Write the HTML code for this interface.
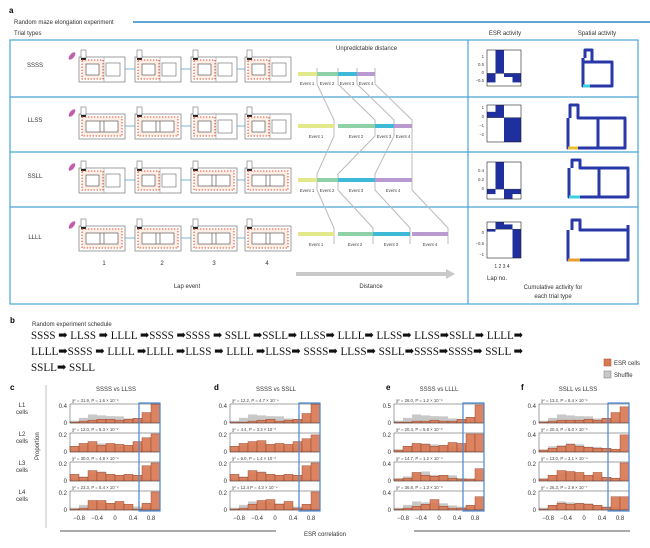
<!DOCTYPE html>
<html><head><meta charset="utf-8"><style>
html,body{margin:0;padding:0;background:#fff;}
svg{display:block;font-family:"Liberation Sans",Arial,sans-serif;}
.t{font-size:6px;fill:#333}
.s{font-size:4.3px;fill:#444}
.q{font-family:"Liberation Serif","DejaVu Serif",serif;font-size:12px;fill:#111}
</style></head><body>
<svg id="s" width="650" height="548" viewBox="0 0 650 548" xmlns="http://www.w3.org/2000/svg">
<rect width="650" height="548" fill="#fff"/>
<!-- panel a -->
<text x="9" y="13" style="font-size:8px;font-weight:bold">a</text>
<text x="14" y="24" class="t">Random maze elongation experiment</text>
<line x1="133" y1="22" x2="650" y2="22" stroke="#2a8ac4" stroke-width="1.6"/>
<text x="14" y="35" class="t">Trial types</text>
<text x="505" y="35" class="t" text-anchor="middle">ESR activity</text>
<text x="597" y="35" class="t" text-anchor="middle">Spatial activity</text>
<g fill="none" stroke="#4aa3d8" stroke-width="1.2">
<rect x="10" y="40" width="628" height="264"/>
<line x1="468" y1="40" x2="468" y2="304"/>
<line x1="10" y1="97" x2="638" y2="97"/>
<line x1="10" y1="152" x2="638" y2="152"/>
<line x1="10" y1="207" x2="638" y2="207"/>
</g>
<text x="35" y="67" class="t" text-anchor="middle">SSSS</text>
<text x="35" y="122" class="t" text-anchor="middle">LLSS</text>
<text x="35" y="178" class="t" text-anchor="middle">SSLL</text>
<text x="35" y="239" class="t" text-anchor="middle">LLLL</text>
<text x="336" y="50" class="t">Unpredictable distance</text>
<g class="t" text-anchor="middle">
<text x="104" y="265">1</text><text x="162" y="265">2</text><text x="214" y="265">3</text><text x="267" y="265">4</text>
<text x="187" y="288">Lap event</text>
<text x="371" y="288">Distance</text>
<text x="502" y="268" style="font-size:5px">1 2 3 4</text>
<text x="497" y="280">Lap no.</text>
<text x="553" y="289">Cumulative activity for</text>
<text x="553" y="298">each trial type</text>
</g>
<g class="s" text-anchor="middle">
<text x="307" y="85">Event 1</text><text x="327" y="85">Event 2</text><text x="347" y="85">Event 3</text><text x="366" y="85">Event 4</text>
<text x="316" y="138">Event 1</text><text x="356" y="138">Event 2</text><text x="384" y="138">Event 3</text><text x="403" y="138">Event 4</text>
<text x="307" y="192">Event 1</text><text x="327" y="192">Event 2</text><text x="356" y="192">Event 3</text><text x="393" y="192">Event 4</text>
<text x="316" y="246">Event 1</text><text x="355" y="246">Event 2</text><text x="391" y="246">Event 3</text><text x="430" y="246">Event 4</text>
</g>
<g class="s" text-anchor="end">
<text x="484" y="58">1</text><text x="484" y="66">0.5</text><text x="484" y="74">0</text><text x="484" y="82">−0.5</text>
<text x="484" y="109">1</text><text x="484" y="118">0</text><text x="484" y="127">−1</text><text x="484" y="136">−2</text>
<text x="484" y="172">0.4</text><text x="484" y="181">0.2</text><text x="484" y="190">0</text>
<text x="484" y="234">0</text><text x="484" y="245">−0.5</text><text x="484" y="256">−1</text>
</g>
<polygon points="296,272 446,272 446,269 455,274 446,279 446,276 296,276" fill="#c9c9c9"/>

<!-- panel b -->
<text x="10" y="323" style="font-size:8px;font-weight:bold">b</text>
<text x="32" y="326" class="t">Random experiment schedule</text>
<text x="31" y="339" class="q" textLength="492" lengthAdjust="spacingAndGlyphs">SSSS ➡ LLSS ➡ LLLL ➡SSSS ➡SSSS ➡ SSLL ➡SSLL➡ LLSS➡ LLLL➡ LLSS➡ LLSS➡SSLL➡ LLLL➡</text>
<text x="31" y="355" class="q" textLength="492" lengthAdjust="spacingAndGlyphs">LLLL➡SSSS ➡ LLLL ➡LLLL ➡LLSS ➡ LLLL ➡LLSS➡ SSSS➡ LLSS➡ SSLL➡SSSS➡SSSS➡ SSLL ➡</text>
<text x="31" y="371" class="q" textLength="64" lengthAdjust="spacingAndGlyphs">SSLL➡ SSLL</text>
<rect x="604" y="359" width="7" height="7" fill="#d97a55" stroke="#a04a2a" stroke-width=".5"/>
<text x="614" y="365" class="t">ESR cells</text>
<rect x="604" y="371" width="7" height="7" fill="#c8c8c8" stroke="#777" stroke-width=".5"/>
<text x="614" y="377" class="t">Shuffle</text>

<!-- panels c-f -->
<g style="font-size:8px;font-weight:bold">
<text x="10" y="390">c</text><text x="214" y="390">d</text><text x="386" y="390">e</text><text x="521" y="390">f</text>
</g>
<g class="t" text-anchor="middle">
<text x="116" y="391">SSSS vs LLSS</text><text x="276" y="391">SSSS vs SSLL</text>
<text x="439" y="391">SSSS vs LLLL</text><text x="578" y="391">SSLL vs LLSS</text>
<text x="22" y="407">L1</text><text x="22" y="414">cells</text>
<text x="22" y="436">L2</text><text x="22" y="443">cells</text>
<text x="22" y="465">L3</text><text x="22" y="472">cells</text>
<text x="22" y="494">L4</text><text x="22" y="501">cells</text>
<text x="325" y="536">ESR correlation</text>
</g>
<text class="t" transform="translate(39,460) rotate(-90)">Proportion</text>
<line x1="46" y1="385" x2="46" y2="528" stroke="#999" stroke-width=".6"/>
<line x1="60" y1="531" x2="276" y2="531" stroke="#555" stroke-width="1"/>
<line x1="414" y1="531" x2="630" y2="531" stroke="#555" stroke-width="1"/>
<g class="s">
<text x="72" y="402">χ² = 31.9, P = 1.6 × 10⁻⁶</text>
<text x="72" y="431">χ² = 12.0, P = 5.3 × 10⁻²</text>
<text x="72" y="460">χ² = 30.0, P = 4.8 × 10⁻⁴</text>
<text x="72" y="489">χ² = 23.3, P = 5.4 × 10⁻⁶</text>
<text x="232" y="402">χ² = 12.2, P = 4.7 × 10⁻⁴</text>
<text x="232" y="431">χ² = 4.4, P = 3.3 × 10⁻²</text>
<text x="232" y="460">χ² = 6.0, P = 1.4 × 10⁻²</text>
<text x="232" y="489">χ² = 12.4 P = 4.3 × 10⁻⁴</text>
<text x="396" y="402">χ² = 26.0, P = 1.2 × 10⁻⁶</text>
<text x="396" y="431">χ² = 20.4, P = 5.8 × 10⁻⁶</text>
<text x="396" y="460">χ² = 14.7, P = 1.2 × 10⁻⁴</text>
<text x="396" y="489">χ² = 36.8, P = 1.3 × 10⁻⁹</text>
<text x="541" y="402">χ² = 13.2, P = 8.4 × 10⁻⁵</text>
<text x="541" y="431">χ² = 20.4, P = 6.0 × 10⁻⁶</text>
<text x="541" y="460">χ² = 13.0, P = 3.1 × 10⁻⁴</text>
<text x="541" y="489">χ² = 26.3, P = 2.9 × 10⁻⁷</text>
</g>
<g class="t" text-anchor="end">
<text x="67" y="408">0.4</text><text x="67" y="425">0</text><text x="67" y="437">0.2</text><text x="67" y="454">0</text><text x="67" y="466">0.2</text><text x="67" y="483">0</text><text x="67" y="495">0.2</text><text x="67" y="512">0</text>
<text x="227" y="408">0.4</text><text x="227" y="425">0</text><text x="227" y="437">0.2</text><text x="227" y="454">0</text><text x="227" y="466">0.2</text><text x="227" y="483">0</text><text x="227" y="495">0.2</text><text x="227" y="512">0</text>
<text x="391" y="408">0.5</text><text x="391" y="425">0</text><text x="391" y="437">0.2</text><text x="391" y="454">0</text><text x="391" y="466">0.4</text><text x="391" y="483">0</text><text x="391" y="495">0.4</text><text x="391" y="512">0</text>
<text x="536" y="408">0.4</text><text x="536" y="425">0</text><text x="536" y="437">0.4</text><text x="536" y="454">0</text><text x="536" y="466">0.2</text><text x="536" y="483">0</text><text x="536" y="495">0.2</text><text x="536" y="512">0</text>
</g>
<g class="t" text-anchor="middle">
<text x="79" y="520">−0.8</text><text x="97" y="520">−0.4</text><text x="115" y="520">0</text><text x="133" y="520">0.4</text><text x="151" y="520">0.8</text>
<text x="239" y="520">−0.8</text><text x="257" y="520">−0.4</text><text x="275" y="520">0</text><text x="293" y="520">0.4</text><text x="311" y="520">0.8</text>
<text x="403" y="520">−0.8</text><text x="421" y="520">−0.4</text><text x="439" y="520">0</text><text x="457" y="520">0.4</text><text x="475" y="520">0.8</text>
<text x="548" y="520">−0.8</text><text x="566" y="520">−0.4</text><text x="584" y="520">0</text><text x="602" y="520">0.4</text><text x="620" y="520">0.8</text>
</g>
<g id="dyn"></g>
</svg>
<script>
var h='';
function r(x,y,w,hh,a){h+='<rect x="'+x+'" y="'+y+'" width="'+w+'" height="'+hh+'" '+(a||'')+'/>';}
function l(x1,y1,x2,y2,a){h+='<line x1="'+x1+'" y1="'+y1+'" x2="'+x2+'" y2="'+y2+'" '+(a||'')+'/>';}
function p(pts,a){h+='<polyline points="'+pts+'" fill="none" '+a+'/>';}
// mazes
function maze(x,y,t){
 r(x,y,46,25,'fill="#fff" stroke="#777" stroke-width=".7"');
 r(x+2,y-7,5,8,'fill="#fff" stroke="#555" stroke-width=".5"');
 r(x+2,y+1,5,2,'fill="#222"');
 var dash='fill="#fdeee6" stroke="#e05030" stroke-width="1.1" stroke-dasharray="1.4,1.6"';
 if(t=='S'){r(x+3,y+3,21,19,dash);r(x+7,y+7,13,11,'fill="#fff" stroke="#444" stroke-width=".6"');
  l(x+25,y,x+25,y+25,'stroke="#888" stroke-width=".5"');r(x+27,y+6,14,13,'fill="none" stroke="#666" stroke-width=".6"');}
 else{r(x+3,y+3,40,19,dash);r(x+7,y+7,32,11,'fill="#fff" stroke="#444" stroke-width=".6"');
  l(x+21,y+7,x+21,y+18,'stroke="#444" stroke-width=".6"');l(x+25,y+7,x+25,y+18,'stroke="#444" stroke-width=".6"');}
}
var rows=[['SSSS',57],['LLSS',114],['SSLL',168],['LLLL',226]];
var mx=[79,135,191,245];
rows.forEach(function(rw){for(var i=0;i<4;i++){maze(mx[i],rw[1],rw[0][i]);if(i<3)l(mx[i]+46,rw[1]+12,mx[i+1],rw[1]+12,'stroke="#5aa0d0" stroke-width=".8"');}
 h+='<ellipse cx="72" cy="'+(rw[1]-1)+'" rx="2.2" ry="4.5" transform="rotate(40 72 '+(rw[1]-1)+')" fill="#c060b0"/>';});
// event bars
var cols=['#e3e88a','#8fd0a8','#3fb9d8','#b99ad0'];
var ev=[[74,[298,317,338,357,375]],[126,[298,334,338,375,394,412]],[180,[298,317,338,375,412]],[234,[298,334,338,373,410,448]]];
var bnd=[[317,338,357,375],[334,375,394,412],[317,338,375,412],[334,373,410,448]];
var ys=[74,126,180,234];
// gray connectors
for(var k=0;k<4;k++){var pts='';for(var j=0;j<4;j++){pts+=bnd[j][k]+','+(ys[j]-6)+' '+bnd[j][k]+','+(ys[j]+10)+' ';}
 p(pts,'stroke="#bbb" stroke-width="1"');}
function bars(y,segs){for(var i=0;i<4;i++)r(segs[i][0],y-2,segs[i][1]-segs[i][0],4,'fill="'+cols[i]+'"');}
bars(74,[[298,317],[317,338],[338,357],[357,375]]);
bars(126,[[298,334],[338,375],[375,394],[394,412]]);
bars(180,[[298,317],[317,338],[338,375],[375,412]]);
bars(234,[[298,334],[338,373],[373,410],[412,448]]);
// ESR plots
function esr(y0,y1,lo,hi,v){var x0=487,w=34;var z=y0+(y1-y0)*hi/(hi-lo);
 for(var i=0;i<4;i++){var yy=y0+(y1-y0)*(hi-v[i])/(hi-lo);r(x0+i*w/4,Math.min(z,yy),w/4,Math.abs(yy-z),'fill="#1f2f9e"');}
 r(x0,y0,w,y1-y0,'fill="none" stroke="#222" stroke-width=".6"');l(x0,z,x0+w,z,'stroke="#222" stroke-width=".4"');}
esr(50,86,-0.7,1.3,[-0.5,1.3,-0.2,-0.5]);
esr(105,142,-2.5,1.3,[0.6,1.3,-2.5,-2.5]);
esr(162,199,-0.2,0.55,[-0.1,0.55,-0.2,-0.1]);
esr(222,258,-1.2,0.3,[-0.1,0.3,0.2,-1.2]);
// spatial
var st='stroke="#2838a8" stroke-width="3" stroke-linejoin="round"';
p('585,58 585,50 592,50 592,62 583,62 612,62 612,86 583,86 583,58',st);l(583,86,590,86,'stroke="#3fd0e0" stroke-width="3"');
p('570,118 570,105 578,105 578,118 625,118 625,148 568,148 568,118',st);l(598,118,598,148,st);l(568,148,578,148,'stroke="#e8c030" stroke-width="3"');
p('572,168 572,160 580,160 580,168 628,168 628,197 569,197 569,168',st);l(599,168,599,197,st);l(569,197,580,197,'stroke="#3fd0e0" stroke-width="3"');
p('572,230 572,220 580,220 580,230 628,230 628,260 568,260 568,230',st);l(628,225,628,230,st);l(568,260,580,260,'stroke="#e8a030" stroke-width="3"');
// histograms
var PX=[70,230,394,539],PY=[404,433,462,491],W=90,H=19;
var OR=[
[[.05,.1,.15,.2,.2,.15,.2,.25,.55,1],[.3,.45,.55,.35,.45,.4,.35,.55,.75,.95],[.35,.2,.55,.45,.35,.3,.35,.3,.8,.95],[.05,.1,.5,.5,.35,.45,.3,.05,.35,.95]],
[[.05,.05,.1,.15,.2,.1,.15,.2,.5,1],[.3,.45,.55,.6,.4,.45,.4,.55,.7,.9],[.35,.2,.55,.45,.35,.3,.35,.3,.8,.95],[.05,.1,.3,.5,.55,.3,.45,.1,.3,.95]],
[[.05,.05,.1,.1,.15,.1,.1,.2,.3,.95],[.1,.3,.45,.4,.3,.35,.5,.45,.95,.95],[.1,.15,.45,.3,.25,.3,.15,.1,.1,.65],[.05,.1,.2,.3,.55,.2,.1,.1,.25,.7]],
[[.05,.1,.15,.15,.15,.2,.15,.25,.55,.85],[.1,.2,.3,.4,.3,.25,.2,.2,.15,.9],[.1,.3,.55,.5,.45,.3,.45,.2,.15,.95],[.05,.25,.35,.3,.35,.3,.25,.15,.7,.7]]];
var SH=[.15,.3,.45,.5,.4,.35,.3,.2,.15,.1];
for(var c=0;c<4;c++){for(var rr=0;rr<4;rr++){var px=PX[c],py=PY[rr],bw=W/10;
 for(var i=0;i<10;i++){var sh=SH[i]*H*(0.8+0.1*((i+rr)%3));r(px+i*bw,py+H-sh,bw,sh,'fill="#c8c8c8"');}
 for(var i=0;i<10;i++){var o=OR[c][rr][i]*H;r(px+i*bw,py+H-o,bw,o,'fill="#d97a55" fill-opacity=".92" stroke="#8a3a20" stroke-width=".4"');}
 r(px,py,W,H,'fill="none" stroke="#444" stroke-width=".5"');}
 r(px+69,403,21,108,'fill="none" stroke="#4a86d0" stroke-width="1.2"');}
document.getElementById('dyn').innerHTML=h;
</script>
</body></html>
